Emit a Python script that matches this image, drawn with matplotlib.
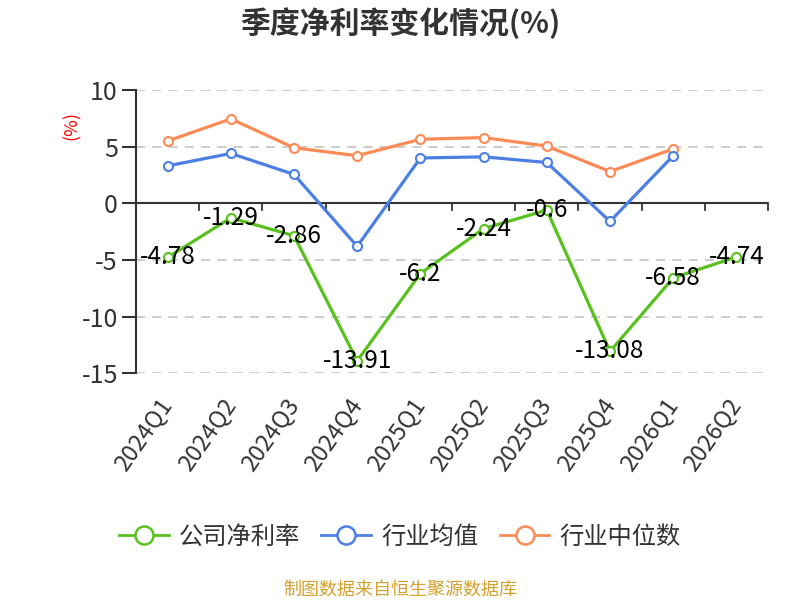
import matplotlib
matplotlib.use("Agg")
import matplotlib.pyplot as plt
from matplotlib.lines import Line2D

plt.rcParams['font.family'] = ['Noto Sans CJK SC', 'DejaVu Sans']

categories = ["2024Q1", "2024Q2", "2024Q3", "2024Q4", "2025Q1", "2025Q2",
              "2025Q3", "2025Q4", "2026Q1", "2026Q2"]
company = [-4.78, -1.29, -2.86, -13.91, -6.2, -2.24, -0.6, -13.08, -6.58, -4.74]
industry_avg = [3.3, 4.4, 2.55, -3.8, 4.0, 4.1, 3.6, -1.6, 4.2]
industry_median = [5.5, 7.45, 4.9, 4.2, 5.65, 5.8, 5.05, 2.8, 4.8]
company_labels = ["-4.78", "-1.29", "-2.86", "-13.91", "-6.2", "-2.24", "-0.6", "-13.08", "-6.58", "-4.74"]

c_green = "#58c11e"
c_blue = "#4b7fe3"
c_orange = "#fe8a56"

fig = plt.figure(figsize=(8, 6), dpi=100)
ax = fig.add_axes([0.17, 0.378, 0.79, 0.472])

x = list(range(len(categories)))
lw = 2.3
mk = dict(marker='o', markersize=6.5, markerfacecolor='white', markeredgewidth=1.5)
ax.plot(x[:len(industry_median)], industry_median, color=c_orange, lw=lw,
        markeredgecolor=c_orange, zorder=3, **mk)
ax.plot(x[:len(industry_avg)], industry_avg, color=c_blue, lw=lw,
        markeredgecolor=c_blue, zorder=4, **mk)
ax.plot(x, company, color=c_green, lw=lw, markeredgecolor=c_green, zorder=5, **mk)

for xi, v, t in zip(x, company, company_labels):
    ax.text(xi, v, t, ha='center', va='center', fontsize=17.5, color='black', zorder=6)

ax.set_xlim(-0.5, len(categories) - 0.5)
ax.set_ylim(-15, 10)
ax.set_yticks([-15, -10, -5, 0, 5, 10])
ax.set_yticklabels(["-15", "-10", "-5", "0", "5", "10"], fontsize=18, color='#333333')
for yv in [-15, -10, -5, 5, 10]:
    ax.axhline(yv, color='#c8c8c8', lw=1.3, ls=(0, (5, 4)), zorder=1)

# zero axis line with ticks at band boundaries
ax.axhline(0, color='#333333', lw=1.5, zorder=2)
for b in [i - 0.5 for i in range(len(categories) + 1)]:
    ax.plot([b, b], [0, -0.55], color='#333333', lw=1.3, zorder=2, clip_on=False)

for s in ['top', 'right', 'bottom']:
    ax.spines[s].set_visible(False)
ax.spines['left'].set_color('#333333')
ax.spines['left'].set_linewidth(1.5)
ax.tick_params(axis='y', length=10, width=1.5, color='#333333', pad=3)

ax.set_xticks(x)
ax.set_xticklabels(categories, rotation=55, ha='right', va='center',
                   rotation_mode='anchor', fontsize=17, color='#333333')
ax.tick_params(axis='x', length=0, pad=20)

fig.text(0.09, 0.79, "(%)", rotation=90, color='red', fontsize=13, ha='center', va='center')

fig.text(0.5, 0.962, "季度净利率变化情况(%)", ha='center', va='center',
         fontsize=21.5, fontweight='bold', color='#333333')

handles = [Line2D([0], [0], color=c, lw=2, marker='o', markersize=13,
                  markerfacecolor='white', markeredgewidth=1.8, markeredgecolor=c)
           for c in [c_green, c_blue, c_orange]]
fig.legend(handles, ["公司净利率", "行业均值", "行业中位数"], loc='center',
           bbox_to_anchor=(0.5, 0.105), ncol=3, frameon=False, fontsize=17.5,
           handlelength=2.05, columnspacing=0.87, handletextpad=0.42,
           labelcolor='#333333')

fig.text(0.5, 0.018, "制图数据来自恒生聚源数据库", ha='center', va='center',
         fontsize=13, color='#d4a02e')

fig.savefig("out.png", dpi=100)
